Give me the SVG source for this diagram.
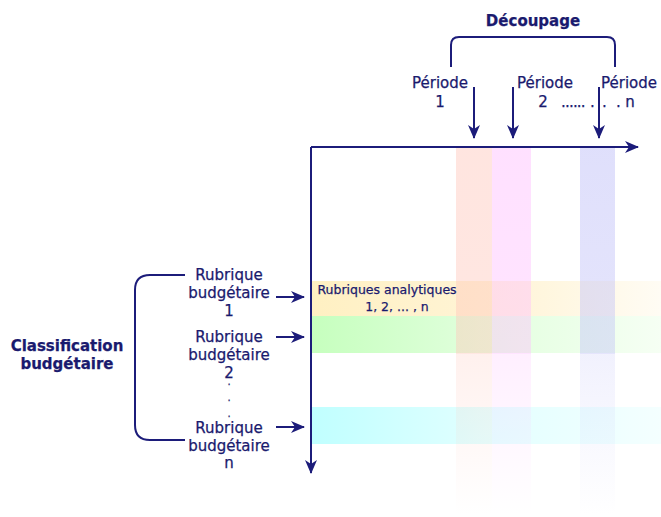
<svg xmlns="http://www.w3.org/2000/svg" width="661" height="517" viewBox="0 0 661 517">
<defs>
<style>
.t{font-family:"DejaVu Sans",Verdana,sans-serif;font-size:15px;fill:#1a1a6e;text-anchor:middle;stroke:#1a1a6e;stroke-width:0.25}
.b{font-weight:bold}
.s{font-size:12.5px}
.st{text-anchor:start}
.ln{fill:none;stroke:#1c1c7a;stroke-width:2}
</style>
<marker id="ah" viewBox="0 0 14 12" refX="13" refY="6" markerWidth="14" markerHeight="12" markerUnits="userSpaceOnUse" orient="auto">
<path d="M0,0 L14,6 L0,12 L4,6 Z" fill="#1c1c7a"/>
</marker>
<linearGradient id="gy" x1="0" x2="1" y1="0" y2="0"><stop offset="0" stop-color="#fff0c2"/><stop offset="0.6" stop-color="#fff5da"/><stop offset="1" stop-color="#fffcf4"/></linearGradient>
<linearGradient id="gg" x1="0" x2="1" y1="0" y2="0"><stop offset="0" stop-color="#c6ffbe"/><stop offset="0.5" stop-color="#e2ffde"/><stop offset="1" stop-color="#f6fff4"/></linearGradient>
<linearGradient id="gc" x1="0" x2="1" y1="0" y2="0"><stop offset="0" stop-color="#c0ffff"/><stop offset="0.5" stop-color="#e2ffff"/><stop offset="1" stop-color="#f4ffff"/></linearGradient>
<linearGradient id="cr" x1="0" x2="0" y1="0" y2="1"><stop offset="0" stop-color="#ffc5b9" stop-opacity="0.45"/><stop offset="0.56" stop-color="#ffc5b9" stop-opacity="0.42"/><stop offset="0.56" stop-color="#ffc5b9" stop-opacity="0.25"/><stop offset="1" stop-color="#ffc5b9" stop-opacity="0"/></linearGradient>
<linearGradient id="cp" x1="0" x2="0" y1="0" y2="1"><stop offset="0" stop-color="#ffbfff" stop-opacity="0.48"/><stop offset="0.56" stop-color="#ffbfff" stop-opacity="0.42"/><stop offset="0.56" stop-color="#ffbfff" stop-opacity="0.25"/><stop offset="1" stop-color="#ffbfff" stop-opacity="0"/></linearGradient>
<linearGradient id="cb" x1="0" x2="0" y1="0" y2="1"><stop offset="0" stop-color="#c0c0f8" stop-opacity="0.5"/><stop offset="0.56" stop-color="#c0c0f8" stop-opacity="0.42"/><stop offset="0.56" stop-color="#c0c0f8" stop-opacity="0.22"/><stop offset="1" stop-color="#c0c0f8" stop-opacity="0"/></linearGradient>
</defs>
<rect width="661" height="517" fill="#ffffff"/>
<g id="rows">
<rect x="312" y="281" width="349" height="35" fill="url(#gy)"/>
<rect x="312" y="316" width="349" height="37" fill="url(#gg)"/>
<rect x="312" y="407" width="349" height="37" fill="url(#gc)"/>
</g>
<g id="columns">
<rect x="456" y="148" width="36" height="367" fill="url(#cr)"/>
<rect x="492" y="148" width="39" height="367" fill="url(#cp)"/>
<rect x="580" y="148" width="35" height="367" fill="url(#cb)"/>
</g>
<g id="connectors">
<path class="ln" d="M311,147 L638,147" marker-end="url(#ah)"/>
<path class="ln" d="M311,147 L311,473" marker-end="url(#ah)"/>
<path class="ln" d="M474,87 L474,138" marker-end="url(#ah)"/>
<path class="ln" d="M513,87 L513,138" marker-end="url(#ah)"/>
<path class="ln" d="M599,87 L599,138" marker-end="url(#ah)"/>
<path class="ln" d="M276,297 L304,297" marker-end="url(#ah)"/>
<path class="ln" d="M276,337 L304,337" marker-end="url(#ah)"/>
<path class="ln" d="M276,427 L304,427" marker-end="url(#ah)"/>
<path class="ln" d="M451,67 L451,45 Q451,37 459,37 L607,37 Q615,37 615,45 L615,67"/>
<path class="ln" d="M185,275 L150,275 Q135,275 135,290 L135,425 Q135,440 150,440 L185,440"/>
</g>
<g id="decoupage"><text class="t b" x="533" y="26">Découpage</text></g>
<g id="periode1"><text class="t" x="440" y="88">Période</text><text class="t" x="440" y="107">1</text></g>
<g id="periode2"><text class="t" x="545" y="88">Période</text><text class="t" x="543" y="107">2<tspan class="st" x="561" style="letter-spacing:-0.8px">......</tspan><tspan class="st" x="590">.</tspan><tspan class="st" x="602">.</tspan><tspan class="st" x="616">.</tspan></text></g>
<g id="periodeN"><text class="t" x="630" y="107">n</text><text class="t" x="629" y="88">Période</text></g>
<g id="classification"><text class="t b" x="67" y="351">Classification</text><text class="t b" x="67" y="369">budgétaire</text></g>
<g id="rubrique1"><text class="t" x="229" y="280">Rubrique</text><text class="t" x="229" y="298">budgétaire</text><text class="t" x="229" y="316">1</text></g>
<g id="rubrique2"><text class="t" x="229" y="342">Rubrique</text><text class="t" x="229" y="360">budgétaire</text><text class="t" x="229" y="378">2</text><text class="t" x="229" y="385" style="font-size:10px">.<tspan x="229" y="401">.</tspan><tspan x="229" y="417">.</tspan></text></g>
<g id="rubriqueN"><text class="t" x="229" y="433">Rubrique</text><text class="t" x="229" y="451">budgétaire</text><text class="t" x="229" y="468">n</text></g>
<g id="analytiques"><text class="t s" x="387" y="294">Rubriques analytiques</text><text class="t s" x="397" y="311">1, 2, ... , n</text></g>
</svg>
